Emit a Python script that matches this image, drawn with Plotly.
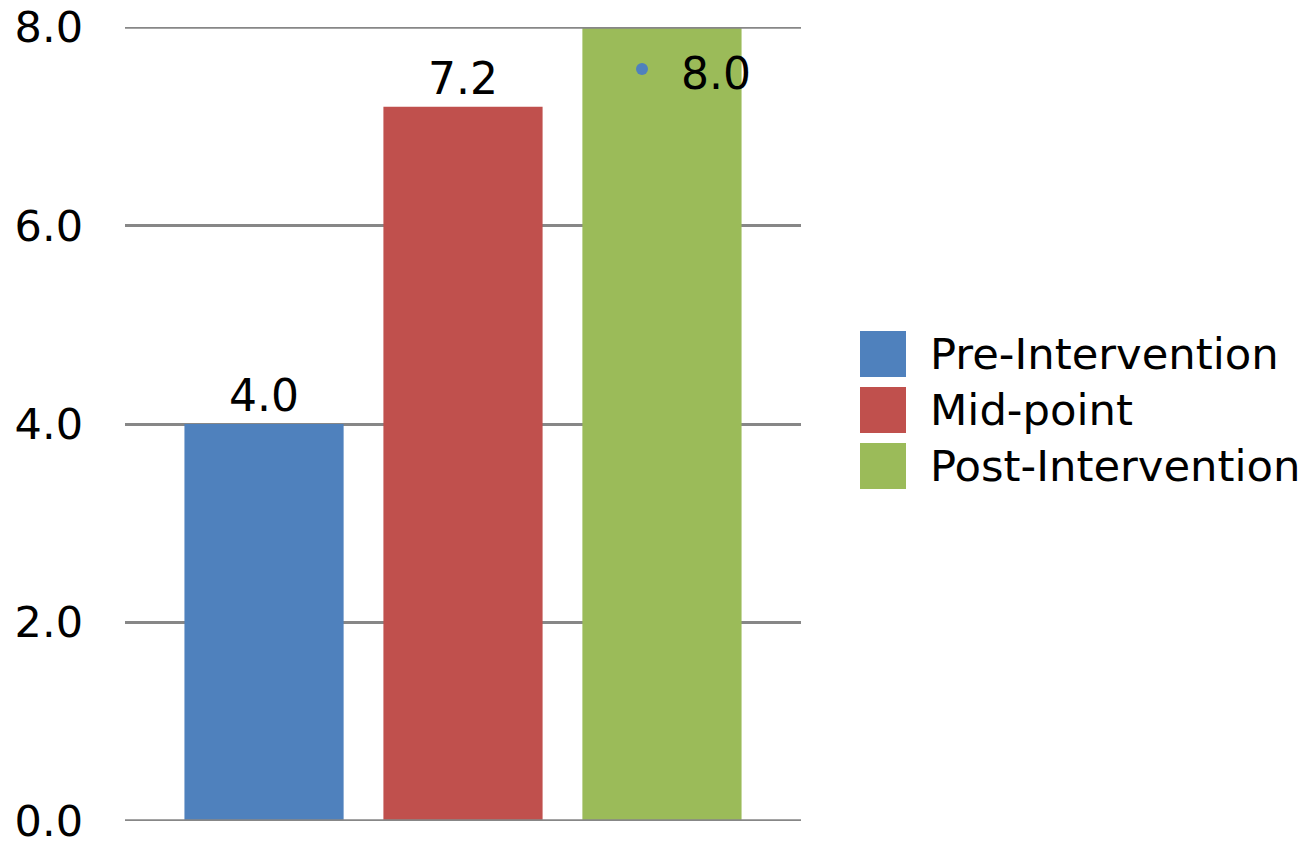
import plotly.graph_objects as go

# Chart data
category = [""]
series_names = ["Pre-Intervention", "Mid-point", "Post-Intervention"]
pre_values = [4.0]
mid_values = [7.2]
post_values = [8.0]
y_ticks = [0.0, 2.0, 4.0, 6.0, 8.0]
y_tick_labels = ["0.0", "2.0", "4.0", "6.0", "8.0"]

colors = ["#4F81BD", "#C0504D", "#9BBB59"]
GRID = "#878787"
FONT = "DejaVu Sans"

# Plot area in pixels (paper is 1305 x 846)
PL, PR, PT, PB = 125, 801, 27, 821
PW, PH = PR - PL, PB - PT


def px_x(x):
    return (x - PL) / PW


def px_y(y):
    return (PB - y) / PH


fig = go.Figure()

series_values = [pre_values, mid_values, post_values]
for name, vals, col in zip(series_names, series_values, colors):
    is_last = name == series_names[-1]
    fig.add_trace(go.Bar(
        name=name,
        x=category,
        y=vals,
        marker=dict(color=col, line=dict(width=0)),
        text=[f"{v:.1f}" for v in vals],
        textposition="none" if is_last else "outside",
        textfont=dict(family=FONT, size=44, color="black"),
        cliponaxis=False,
        showlegend=False,
    ))

# Value label for the last series, placed inside the top of its bar
fig.add_annotation(
    xref="paper", yref="y",
    x=px_x(716), y=post_values[0],
    xanchor="center", yanchor="middle",
    text=f"{post_values[0]:.1f}",
    showarrow=False,
    font=dict(family=FONT, size=44, color="black"),
    yshift=-46,
)
# Small marker dot beside that label
fig.add_shape(
    type="circle", xref="paper", yref="paper",
    x0=px_x(636), x1=px_x(648),
    y0=px_y(75), y1=px_y(63),
    fillcolor=colors[0], line=dict(width=0),
)

# Grid lines at the two ends of the value range (Plotly skips edge grid lines)
for yv in (y_ticks[0], y_ticks[-1]):
    fig.add_shape(
        type="line", xref="paper", yref="y",
        x0=0, x1=1, y0=yv, y1=yv,
        line=dict(color=GRID, width=2.5), layer="above",
    )

# Legend drawn as coloured squares with labels to their right
legend_rows_y = [354, 410, 466]
for name, col, cy in zip(series_names, colors, legend_rows_y):
    fig.add_shape(
        type="rect", xref="paper", yref="paper",
        x0=px_x(860), x1=px_x(906),
        y0=px_y(cy + 23), y1=px_y(cy - 23),
        fillcolor=col, line=dict(width=0),
    )
    fig.add_annotation(
        xref="paper", yref="paper",
        x=px_x(928), y=px_y(cy),
        xanchor="left", yanchor="middle",
        text=name, showarrow=False,
        font=dict(family=FONT, size=43.3, color="black"),
    )

fig.update_layout(
    width=1305, height=846,
    margin=dict(l=PL, r=1305 - PR, t=PT, b=846 - PB, pad=0),
    paper_bgcolor="white", plot_bgcolor="white",
    barmode="group", bargap=0.117, bargroupgap=0.2,
    showlegend=False,
    font=dict(family=FONT, color="black"),
)
fig.update_xaxes(showticklabels=False, showgrid=False, showline=False,
                 zeroline=False, ticks="", automargin=False)
fig.update_yaxes(
    range=[-0.004, 8.004], tickvals=y_ticks, ticktext=y_tick_labels,
    showgrid=True, gridcolor=GRID, gridwidth=2.5,
    zeroline=False, showline=False, ticks="",
    ticklabelstandoff=41, automargin=False,
    tickfont=dict(family=FONT, size=43, color="black"),
)

fig.write_html("out.html")
